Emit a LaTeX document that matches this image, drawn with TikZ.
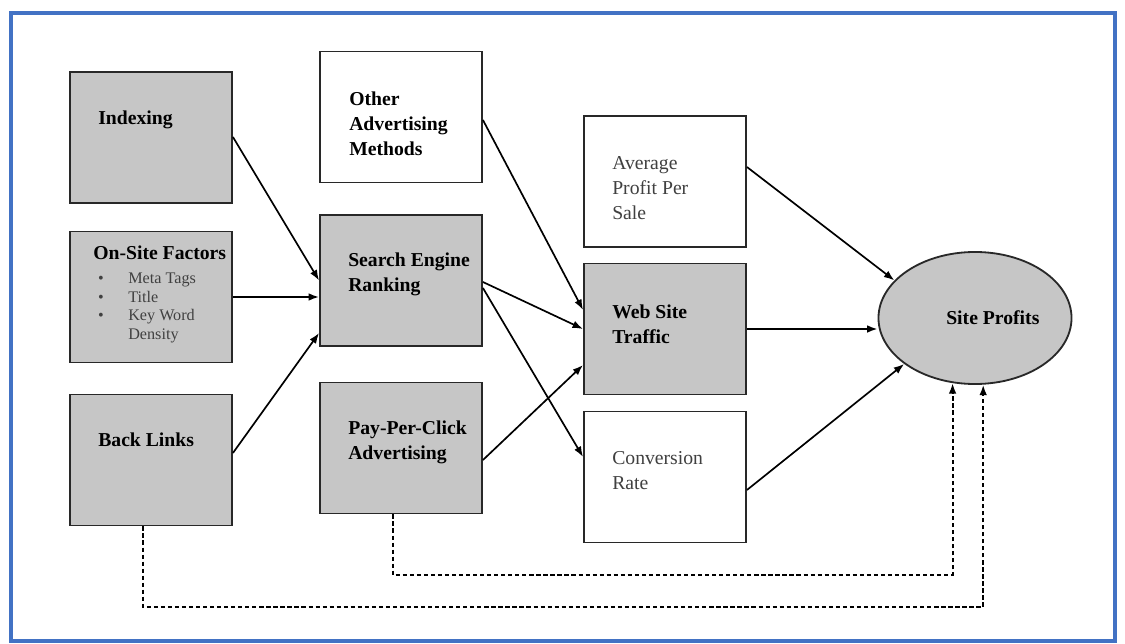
\documentclass[tikz,border=0pt]{standalone}
\usepackage{fontspec}
\setmainfont{Liberation Serif}
\usetikzlibrary{arrows.meta,shapes.geometric}
\definecolor{boxgray}{RGB}{198,198,198}
\definecolor{frameblue}{RGB}{66,114,196}
\definecolor{inkgray}{RGB}{64,64,64}
\definecolor{edgegray}{RGB}{40,40,40}

\begin{document}
\begin{tikzpicture}[x=0.025cm, y=-0.025cm,
    boxnode/.style={rectangle, draw=edgegray, line width=1.3pt, minimum width=4.05cm, minimum height=3.275cm, inner sep=0pt},
    graybox/.style={boxnode, fill=boxgray},
    whitebox/.style={boxnode, fill=white},
    boldtxt/.style={anchor=west, inner sep=0pt, align=left, font=\fontsize{14}{17.9}\selectfont\bfseries},
    plaintxt/.style={anchor=west, inner sep=0pt, align=left, text=inkgray, font=\fontsize{14}{17.9}\selectfont},
    itemtxt/.style={anchor=west, inner sep=0pt, align=left, text=inkgray, font=\fontsize{11.5}{13.1}\selectfont},
    link/.style={line width=1.2pt, -{Latex[length=7.5pt, width=5.5pt]}},
    feedback/.style={link, line width=1.4pt, dash pattern=on 3pt off 2pt}]
    \useasboundingbox (0,0) rectangle (1125,644);
    \draw[frameblue, line width=3.5pt] (11,13) rectangle (1115,641);

    \node[graybox] (idx) at (151,137.5) {};
    \node[graybox] (onsite) at (151,297) {};
    \node[graybox] (bl) at (151,460) {};
    \node[whitebox] (other) at (401,117) {};
    \node[graybox] (ser) at (401,280.5) {};
    \node[graybox] (ppc) at (401,448) {};
    \node[whitebox] (avg) at (665,181.5) {};
    \node[graybox] (wst) at (665,329) {};
    \node[whitebox] (conv) at (665,477) {};
    \node[ellipse, draw=edgegray, line width=1.3pt, fill=boxgray, minimum width=4.825cm, minimum height=3.3cm, inner sep=0pt] (sp) at (975,318) {};

    \node[boldtxt] (idxtxt) at (98,120) {Indexing};
    \node[boldtxt] (onsitetxt) at (93,253) {On-Site Factors};
    \node[itemtxt] (onsiteitems) at (93,308) {\makebox[0.875cm][l]{\hspace*{0.12cm}\textbullet}Meta Tags\\
        \makebox[0.875cm][l]{\hspace*{0.12cm}\textbullet}Title\\
        \makebox[0.875cm][l]{\hspace*{0.12cm}\textbullet}Key Word\\
        \hspace*{0.875cm}Density};
    \node[boldtxt] (bltxt) at (98,440) {Back Links};
    \node[boldtxt] (othertxt) at (349,124) {Other\\Advertising\\Methods};
    \node[boldtxt] (sertxt) at (348,274.5) {Search Engine\\Ranking};
    \node[boldtxt] (ppctxt) at (348,442.5) {Pay-Per-Click\\Advertising};
    \node[plaintxt] (avgtxt) at (612,188) {Average\\Profit Per\\Sale};
    \node[boldtxt] (wsttxt) at (612,324.5) {Web Site\\Traffic};
    \node[plaintxt] (convtxt) at (612,470.5) {Conversion\\Rate};
    \node[boldtxt] (sptxt) at (946,318) {Site Profits};

    \draw[link] (idx.east |- 0,137) -- (ser.west);
    \draw[link] (onsite.east) -- (ser.west |- onsite.east);
    \draw[link] (bl.east |- 0,453) -- (ser.west |- 0,333);
    \draw[link] (other.east |- 0,120) -- (wst.west |- 0,310);
    \draw[link] (ser.east |- 0,282) -- (wst.west);
    \draw[link] (ser.east |- 0,288) -- (conv.west |- 0,457);
    \draw[link] (ppc.east |- 0,460) -- (wst.west |- 0,365);
    \draw[link] (avg.east |- 0,167) -- (sp.155);
    \draw[link] (wst.east) -- (sp.west |- wst.east);
    \draw[link] (conv.east |- 0,490) -- (sp.213);
    \draw[feedback] (ppc.south -| 393,0) -- (393,575) -| (sp.251);
    \draw[feedback] (bl.south -| 143,0) -- (143,607) -| (sp.277);
\end{tikzpicture}
\end{document}
